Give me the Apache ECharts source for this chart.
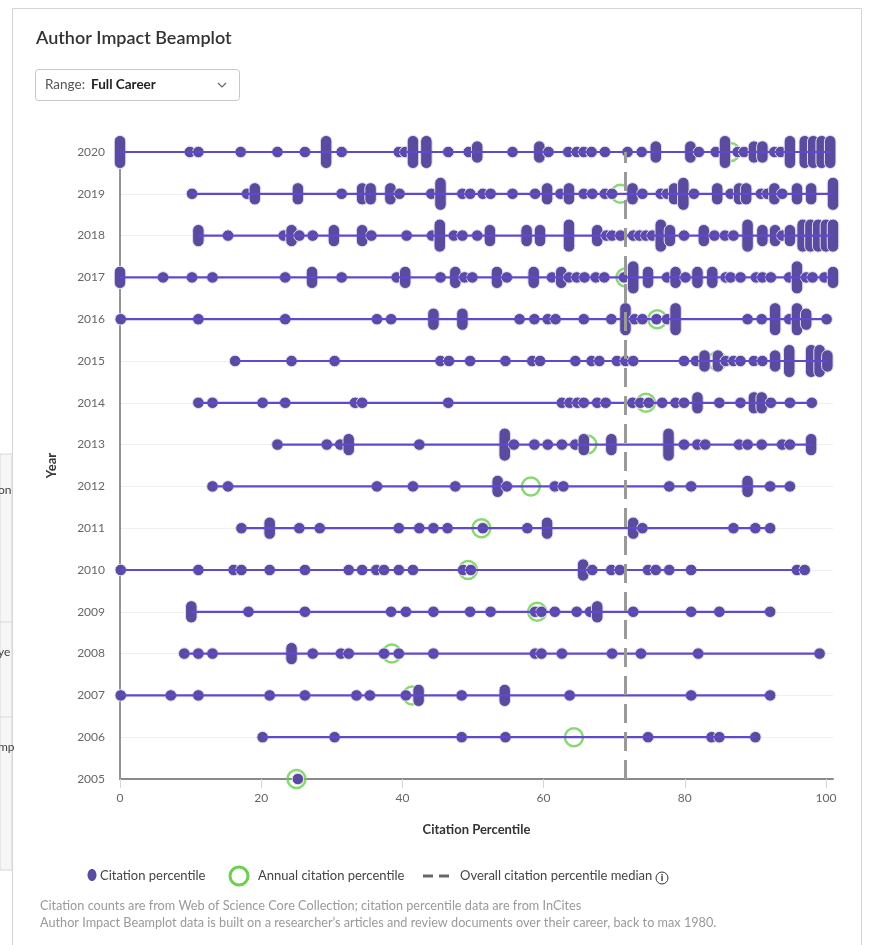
<!DOCTYPE html>
<html><head><meta charset="utf-8">
<script src="https://cdn.jsdelivr.net/npm/echarts@6/dist/echarts.min.js"></script>
<style>html,body{margin:0;padding:0;background:#fff}#c{width:874px;height:945px}</style>
</head><body><div id="c"></div>
<script>
// ---- data (percentile, or [percentile, stacked papers]) ----
const years = [2020,2019,2018,2017,2016,2015,2014,2013,2012,2011,2010,2009,2008,2007,2006,2005];
const p2020 = [[0,5],9.9,11.1,17.1,22.3,26.2,[29.2,5],31.4,39.5,40.4,[41.5,5],[43.4,5],46.5,49.4,[50.6,3],55.6,[59.4,3],60.7,63.5,64.7,65.7,66.8,68.7,71.9,73.9,[75.9,3],[80.8,3],82.0,84.4,[85.7,5],87.5,88.4,[89.8,3],[91.0,3],92.7,93.6,[94.9,5],[97.0,5],[98.2,5],[99.4,5],[100.6,5]];
const p2019 = [10.2,18.0,[19.1,3],[25.2,3],31.4,[34.3,3],[35.5,3],[38.3,3],39.6,44.1,[45.4,5],48.5,49.6,51.4,52.5,55.6,58.8,[60.5,3],62.4,[63.6,3],65.7,66.9,68.7,69.7,[72.6,3],74.0,76.6,77.5,[78.5,3],[79.8,5],81.3,[84.6,3],86.5,[87.7,3],[88.7,3],90.8,91.7,[92.7,3],93.8,[95.9,3],[97.9,3],[101.0,5]];
const p2018 = [[11.1,3],15.3,23.2,[24.3,3],25.4,27.3,[30.3,3],[34.3,3],35.6,40.6,44.2,[45.3,5],47.3,48.5,50.6,[52.4,3],[57.6,3],[59.5,3],[63.6,5],[67.6,3],68.9,69.7,70.9,72.7,73.6,74.5,75.4,[76.6,5],[77.9,3],79.9,[82.7,3],84.2,85.7,86.9,[88.9,5],[91.0,3],[92.8,3],93.8,[94.9,3],[96.7,5],[97.8,5],[98.9,5],[100.0,5],[101.0,5]];
const p2017 = [[0,3],6.1,10.2,13.1,23.4,[27.2,3],31.4,39.2,[40.4,3],45.4,[47.5,3],48.8,49.9,[53.4,3],54.8,[58.6,3],61.2,[62.5,3],63.6,64.7,65.8,67.4,68.6,71.4,[72.7,5],[74.8,3],77.5,[78.7,3],80.1,[81.8,3],[83.9,3],85.8,86.5,87.9,90.1,91.0,92.2,94.8,[95.9,5],97.2,98.1,99.8,[101.0,3]];
const p2016 = [0.1,11.1,23.4,36.4,38.4,[44.4,3],[48.5,3],56.6,58.7,60.6,61.7,65.7,69.6,[71.6,5],72.9,74.0,76.0,77.5,[78.7,5],88.9,90.9,[92.8,5],94.8,[95.9,5],[97.2,3],100.1];
const p2015 = [16.3,24.3,30.4,45.4,46.6,49.6,54.6,58.4,59.5,64.5,66.8,67.9,70.4,71.6,72.7,79.9,81.6,[82.8,3],[84.7,3],85.8,86.9,87.9,89.8,91.0,[92.8,3],[94.8,5],[97.9,5],[99.1,5],[100.2,3]];
const p2014 = [11.1,13.1,20.2,23.4,33.3,34.3,46.5,62.6,63.7,64.8,65.7,67.6,68.8,72.6,73.7,74.9,76.8,78.7,79.9,[81.8,3],84.9,87.9,[89.8,3],[90.9,3],92.2,94.9,98.0];
const p2013 = [22.3,29.3,31.2,[32.4,3],42.4,[54.5,5],55.8,58.7,60.6,62.6,64.5,[65.7,3],[69.6,3],[77.7,5],79.9,81.8,82.9,87.7,88.9,90.9,93.8,94.9,[97.9,3]];
const p2012 = [13.1,15.3,36.4,41.5,47.5,[53.5,3],54.8,61.6,62.8,77.8,80.9,[88.9,3],92.1,94.9];
const p2011 = [17.2,[21.2,3],25.4,28.3,39.5,42.4,44.4,46.4,51.4,57.7,[60.5,3],[72.7,3],74.0,86.9,90.0,92.1];
const p2010 = [0.1,11.1,16.1,17.2,21.2,26.2,32.4,34.3,36.3,37.4,39.5,41.5,48.6,49.7,[65.6,3],66.9,69.6,70.8,74.8,75.9,77.8,80.9,95.9,97.0];
const p2009 = [[10.1,3],18.2,26.2,38.4,40.5,44.4,49.6,52.5,58.8,59.7,61.6,64.7,66.6,[67.6,3],72.7,80.9,84.9,92.1];
const p2008 = [9.1,11.1,13.1,[24.3,3],27.3,31.3,32.4,37.4,39.5,44.4,58.8,59.7,62.6,69.7,73.8,81.9,99.1];
const p2007 = [0.1,7.2,11.1,21.2,26.2,33.5,35.4,40.5,[42.3,3],48.4,[54.5,3],63.7,80.9,92.1];
const p2006 = [20.2,30.4,48.4,54.6,74.8,83.8,84.9,90.0];
const p2005 = [25.2];
const annualPercentile = [86.5,70.9,null,71.6,76.1,84.6,74.5,66.2,58.2,51.2,49.3,59.1,38.5,41.4,64.3,25.0];
const overallMedian = 71.6;
const xTicks = [0,20,40,60,80,100];

// ---- build ----
const rows = [p2020,p2019,p2018,p2017,p2016,p2015,p2014,p2013,p2012,p2011,p2010,p2009,p2008,p2007,p2006,p2005];
const dots = [], beams = [];
rows.forEach((r, i) => {
  const ps = [];
  r.forEach(v => { const a = Array.isArray(v) ? v : [v, 1]; dots.push([a[0], years[i], a[1]]); ps.push(a[0]); });
  beams.push([Math.min(...ps), Math.max(...ps), years[i]]);
});
const rings = [];
annualPercentile.forEach((v, i) => { if (v != null) rings.push([v, years[i]]); });

const PURPLE = '#5b4b9f', GREEN = '#6ccf4f', FONT = 'Lato';
const chart = echarts.init(document.getElementById('c'), null, {renderer: 'canvas'});
chart.setOption({
  animation: false,
  textStyle: {fontFamily: FONT},
  grid: {left: 120, right: 41, top: 152, bottom: 166},
  xAxis: {
    type: 'value', min: 0, max: 101,
    name: 'Citation Percentile', nameLocation: 'middle', nameGap: 44,
    nameTextStyle: {color: '#333', fontWeight: 'bold', fontSize: 13, fontFamily: FONT},
    axisLine: {show: true, lineStyle: {color: '#8a8a8a', width: 2}},
    axisTick: {show: true, length: 9, customValues: xTicks, lineStyle: {color: '#ccd6eb'}},
    axisLabel: {customValues: xTicks, color: '#666', fontSize: 12, margin: 13, fontFamily: FONT},
    splitLine: {show: false}
  },
  yAxis: {
    type: 'value', min: 2005, max: 2020, interval: 1,
    name: 'Year', nameLocation: 'middle', nameGap: 62, nameRotate: 90,
    nameTextStyle: {color: '#333', fontWeight: 'bold', fontSize: 13, fontFamily: FONT},
    axisLine: {show: true, lineStyle: {color: '#707070', width: 1.5}},
    axisTick: {show: false},
    axisLabel: {color: '#666', fontSize: 12, margin: 15, fontFamily: FONT, formatter: v => String(v)},
    splitLine: {show: true, lineStyle: {color: '#efefef'}}
  },
  series: [
    {
      type: 'scatter', name: 'Annual citation percentile', data: rings, z: 2, clip: false,
      symbol: 'circle', symbolSize: 18,
      itemStyle: {color: 'rgba(255,255,255,0)', borderColor: GREEN, borderWidth: 2.5},
      markLine: {
        silent: true, symbol: 'none', label: {show: false},
        lineStyle: {color: '#9a9a9a', type: [19, 9], width: 3},
        data: [{xAxis: overallMedian}]
      }
    },
    {
      type: 'custom', name: 'Citation percentile', data: dots, z: 3,
      encode: {x: 0, y: 1},
      renderItem: (params, api) => {
        const c = api.coord([api.value(0), api.value(1)]);
        const n = api.value(2);
        const w = 11.5, h = w + (n - 1) * 5.4;
        return {type: 'rect', shape: {x: c[0] - w / 2, y: c[1] - h / 2, width: w, height: h, r: w / 2},
          style: {fill: PURPLE, stroke: '#e2def2', lineWidth: 1}};
      }
    },
    {
      type: 'custom', name: 'beam', data: beams, z: 4,
      encode: {x: [0, 1], y: 2},
      renderItem: (params, api) => {
        const a = api.coord([api.value(0), api.value(2)]);
        const b = api.coord([api.value(1), api.value(2)]);
        return {type: 'line', shape: {x1: a[0], y1: a[1], x2: b[0], y2: b[1]},
          style: {stroke: '#6247cf', lineWidth: 2.2}};
      }
    }
  ],
  graphic: [
    {type: 'rect', shape: {x: 12.5, y: 8.5, width: 849, height: 1000}, style: {fill: 'none', stroke: '#d4d4d4', lineWidth: 1}},
    {type: 'rect', shape: {x: 0, y: 454, width: 12, height: 416}, style: {fill: '#f6f6f6', stroke: '#d8d8d8', lineWidth: 1}},
    {type: 'line', shape: {x1: 0, y1: 622, x2: 12, y2: 622}, style: {stroke: '#d8d8d8', lineWidth: 1}},
    {type: 'line', shape: {x1: 0, y1: 717, x2: 12, y2: 717}, style: {stroke: '#d8d8d8', lineWidth: 1}},
    {type: 'text', x: -2, y: 490, style: {text: 'on', fill: '#444', font: '12px Lato', verticalAlign: 'middle'}},
    {type: 'text', x: -2, y: 652, style: {text: 'ye', fill: '#444', font: '12px Lato', verticalAlign: 'middle'}},
    {type: 'text', x: -2, y: 747, style: {text: 'mp', fill: '#444', font: '12px Lato', verticalAlign: 'middle'}},
    {type: 'text', x: 36, y: 38, style: {text: 'Author Impact Beamplot', fill: '#333', font: '600 18px Lato', verticalAlign: 'middle'}},
    {type: 'rect', shape: {x: 35.5, y: 69.5, width: 204, height: 31, r: 3}, style: {fill: '#fff', stroke: '#c6c6c6', lineWidth: 1}},
    {type: 'text', x: 45, y: 85, style: {text: 'Range:', fill: '#555', font: '13.5px Lato', verticalAlign: 'middle'}},
    {type: 'text', x: 91, y: 85, style: {text: 'Full Career', fill: '#222', font: 'bold 13.5px Lato', verticalAlign: 'middle'}},
    {type: 'polyline', shape: {points: [[218, 83], [222, 87], [226, 83]]}, style: {stroke: '#666', lineWidth: 1.2, fill: 'none'}},
    {type: 'ellipse', shape: {cx: 92, cy: 875, rx: 4.5, ry: 6}, style: {fill: PURPLE}},
    {type: 'text', x: 100, y: 876, style: {text: 'Citation percentile', fill: '#444', font: '13px Lato', verticalAlign: 'middle'}},
    {type: 'circle', shape: {cx: 239, cy: 876, r: 9}, style: {fill: 'none', stroke: GREEN, lineWidth: 3}},
    {type: 'text', x: 258, y: 876, style: {text: 'Annual citation percentile', fill: '#444', font: '13px Lato', verticalAlign: 'middle'}},
    {type: 'line', shape: {x1: 423, y1: 876, x2: 433, y2: 876}, style: {stroke: '#666', lineWidth: 3}},
    {type: 'line', shape: {x1: 439, y1: 876, x2: 449, y2: 876}, style: {stroke: '#666', lineWidth: 3}},
    {type: 'text', x: 460, y: 876, style: {text: 'Overall citation percentile median', fill: '#444', font: '13px Lato', verticalAlign: 'middle'}},
    {type: 'circle', shape: {cx: 662, cy: 878, r: 6}, style: {fill: 'none', stroke: '#333', lineWidth: 1}},
    {type: 'text', x: 662, y: 878, style: {text: 'i', fill: '#222', font: 'bold 10px Lato', align: 'center', verticalAlign: 'middle'}},
    {type: 'text', x: 40, y: 906, style: {text: 'Citation counts are from Web of Science Core Collection; citation percentile data are from InCites', fill: '#9a9a9a', font: '12.7px Lato', verticalAlign: 'middle'}},
    {type: 'text', x: 40, y: 923, style: {text: 'Author Impact Beamplot data is built on a researcher\u2019s articles and review documents over their career, back to max 1980.', fill: '#9a9a9a', font: '12.7px Lato', verticalAlign: 'middle'}}
  ]
});
</script></body></html>
